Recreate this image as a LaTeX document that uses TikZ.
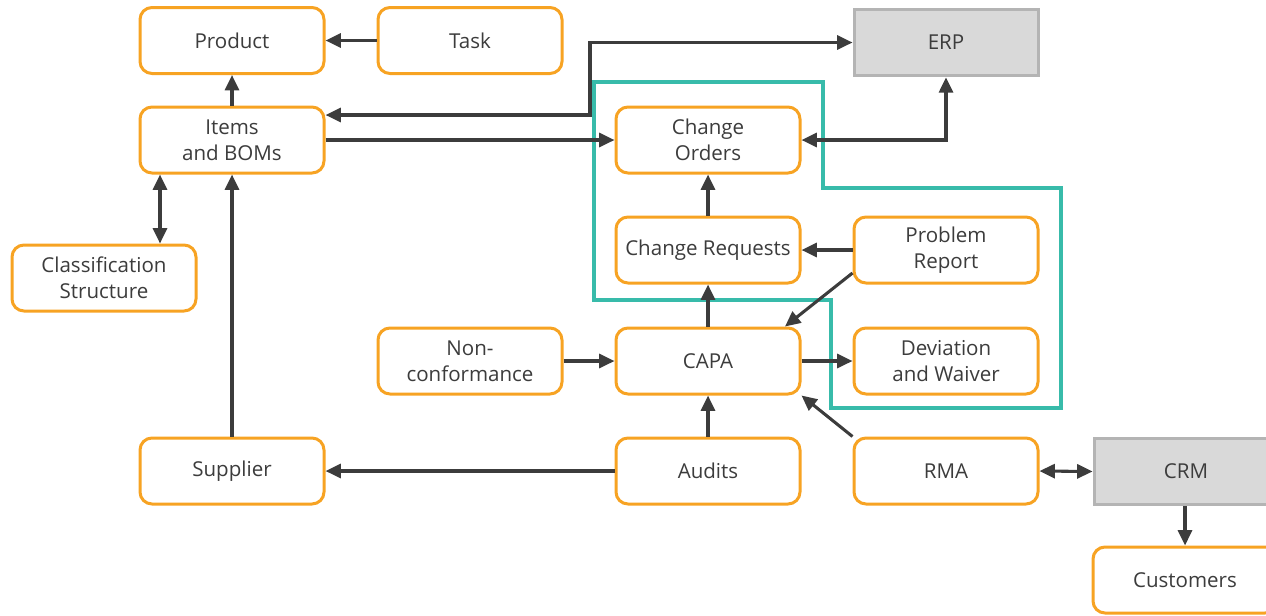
\documentclass[tikz,border=0pt]{standalone}
\usepackage{fontspec}
\setmainfont{Open Sans}
\usetikzlibrary{arrows.meta}
\definecolor{orng}{RGB}{247,163,35}
\definecolor{txt}{RGB}{60,60,60}
\definecolor{tealc}{RGB}{56,187,170}
\definecolor{gfill}{RGB}{217,217,217}
\definecolor{gline}{RGB}{180,180,180}
\begin{document}
\begin{tikzpicture}[x=0.75pt,y=-0.75pt,
  font=\fontsize{15.4}{19.5}\selectfont,
  box/.style={draw=orng, line width=2.25pt, rounded corners=9pt, fill=white,
    minimum width=138pt, minimum height=49.5pt, align=center, text=txt, inner sep=0pt},
  sys/.style={draw=gline, fill=gfill, line width=2.25pt, minimum width=138pt,
    minimum height=50pt, text=txt, inner sep=0pt},
  conn/.style={draw=txt, line width=2.3pt, -{Triangle[length=11.5pt,width=10.5pt]}},
  bconn/.style={draw=txt, line width=2.3pt, {Triangle[length=11.5pt,width=10.5pt]}-{Triangle[length=11.5pt,width=10.5pt]}},
  hl/.style={draw=tealc, line width=3.3pt}
]
\useasboundingbox (0,0) rectangle (1266,615);
% highlight outline
\draw[hl] (594,82) -- (823,82) -- (823,188) -- (1061,188) -- (1061,408)
  -- (831,408) -- (831,300) -- (594,300) -- cycle;
% nodes
\node[box] (product) at (232,40.5) {Product};
\node[box] (task) at (470,40.5) {Task};
\node[sys] (erp) at (946,42.5) {ERP};
\node[box] (items) at (232,140) {Items\\and BOMs};
\node[box] (co) at (708,140) {Change\\Orders};
\node[box] (class) at (104,278) {Classification\\Structure};
\node[box] (cr) at (708,250) {Change Requests};
\node[box] (pr) at (946,250) {Problem\\Report};
\node[box] (nc) at (470,361) {Non-\\conformance};
\node[box] (capa) at (708,361) {CAPA};
\node[box] (dev) at (946,361) {Deviation\\and Waiver};
\node[box] (sup) at (232,471) {Supplier};
\node[box] (aud) at (708,471) {Audits};
\node[box] (rma) at (946,471) {RMA};
\node[sys] (crm) at (1186,471.5) {CRM};
\node[box] (cust) at (1185,580) {Customers};
% helper coordinates
\coordinate (j1) at (590,115);
\coordinate (cx) at (160,0);
% connectors
\draw[conn] (task) -- (product);
\draw[conn] (items) -- (product);
\draw[bconn] ([yshift=18.75pt]items.east) -- (j1) |- (erp.west);
\draw[conn] (items.east) -- (co.west);
\draw[bconn] (co.east) -| (erp.south);
\draw[bconn] (items.south -| cx) -- (class.north -| cx);
\draw[conn] (sup.north) -- (items.south);
\draw[conn] (aud.west) -- (sup.east);
\draw[conn] (aud.north) -- (capa.south);
\draw[conn] (capa.north) -- (cr.south);
\draw[conn] (cr.north) -- (co.south);
\draw[conn] (pr.west) -- (cr.east);
\draw[conn] ([yshift=-17.25pt]pr.west) -- ([xshift=57.75pt]capa.north);
\draw[conn] (nc.east) -- (capa.west);
\draw[conn] (capa.east) -- (dev.west);
\draw[conn] (rma.north west) -- (capa.south east);
\draw[bconn] (rma.east) -- (crm.west);
\draw[conn] (crm.south -| cust.north) -- (cust.north);
\end{tikzpicture}
\end{document}
